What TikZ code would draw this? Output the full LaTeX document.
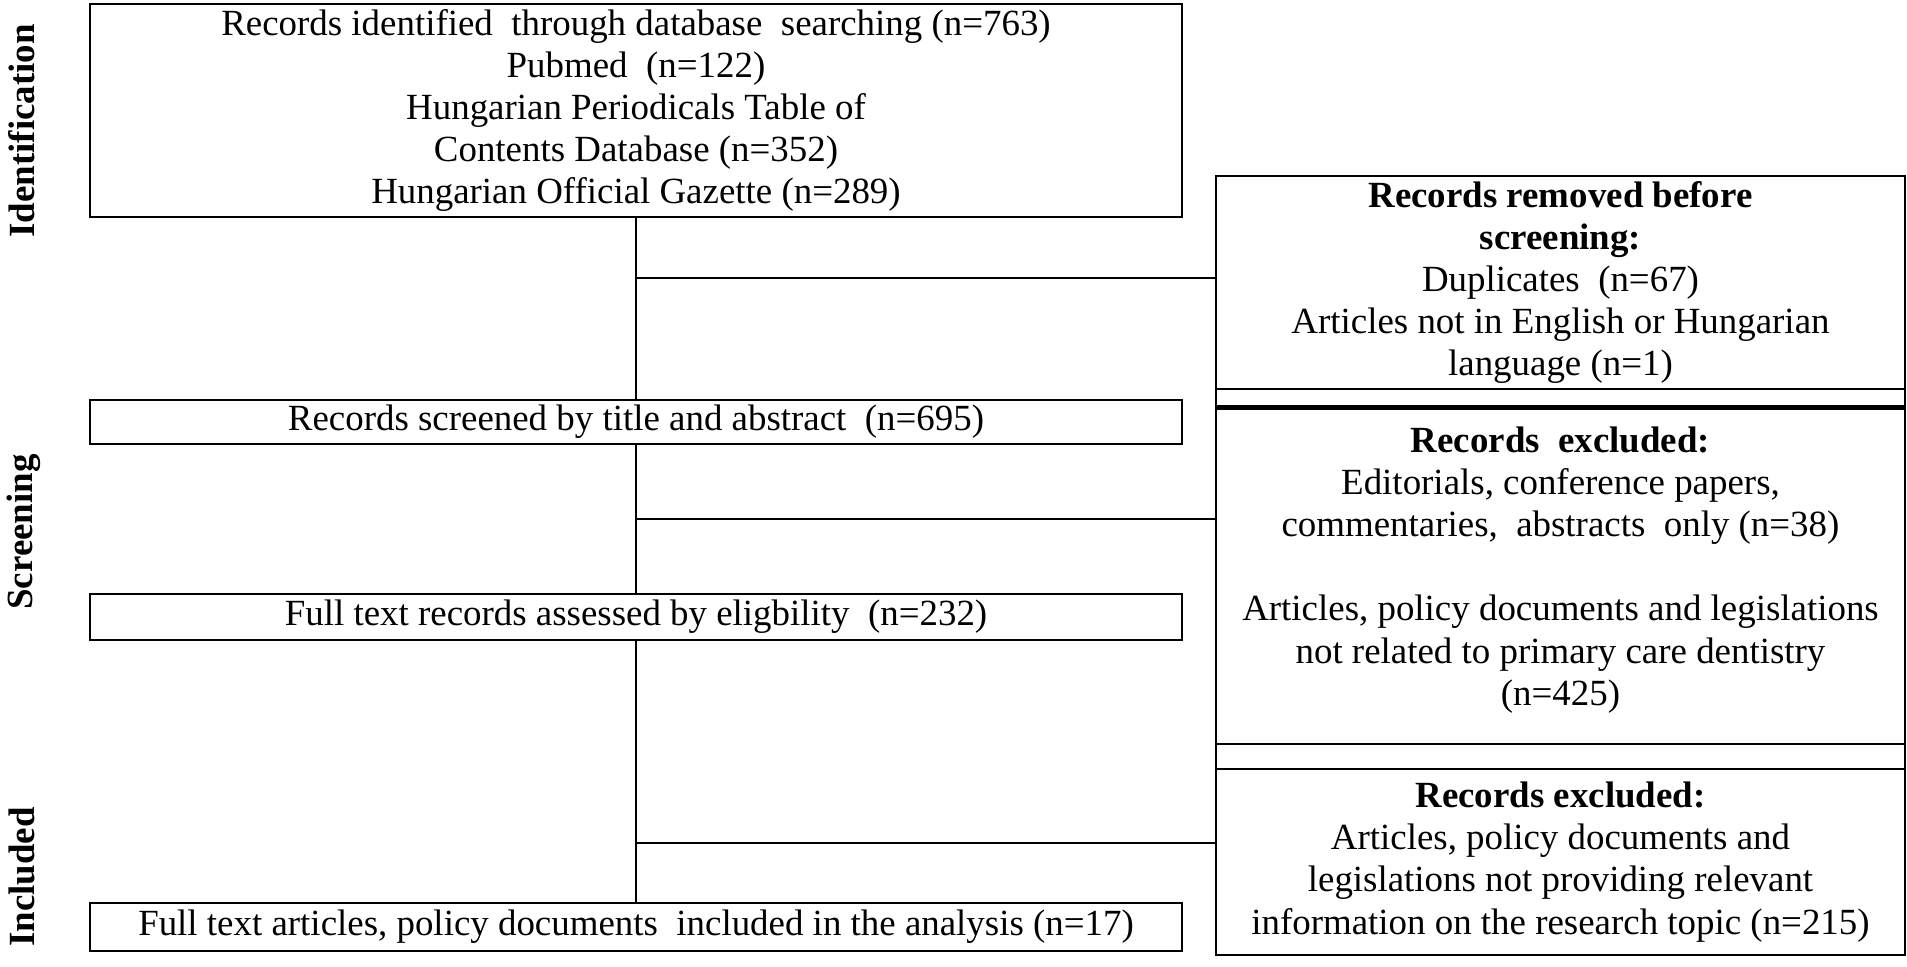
\documentclass[tikz,border=0pt]{standalone}
\usepackage{fontspec}
\setmainfont{Liberation Serif}
\usetikzlibrary{positioning}

\begin{document}
\begin{tikzpicture}[every node/.style={font=\fontsize{10.5}{12}\selectfont},
    box/.style={draw, rectangle, line width=0.7pt, inner sep=0pt, align=center},
    stage/.style={rotate=90, font=\fontsize{10.5}{12}\selectfont\bfseries},
    link/.style={line width=0.7pt}]
    \useasboundingbox (0,0) rectangle (19.07,-9.67);

    \node[stage] (l_ident) at (0.22,-1.31) {Identification};
    \node[stage] (l_screen) at (0.24,-5.32) {Screening};
    \node[stage] (l_incl) at (0.22,-8.77) {Included};

    \node[box, minimum width=10.92cm, minimum height=2.13cm] (ident) at (6.36,-1.105) {Records identified\ \ through database\ \ searching (n=763)\\ Pubmed\ \ (n=122)\\ Hungarian Periodicals Table of\\ Contents Database (n=352)\\ Hungarian Official Gazette (n=289)};
    \node[box, minimum width=10.92cm, minimum height=0.44cm] (screen) at (6.36,-4.22) {Records screened by title and abstract\ \ (n=695)};
    \node[box, minimum width=10.92cm, minimum height=0.46cm] (full) at (6.36,-6.17) {Full text records assessed by eligbility\ \ (n=232)};
    \node[box, minimum width=10.92cm, minimum height=0.48cm] (incl) at (6.36,-9.27) {Full text articles, policy documents\ \ included in the analysis (n=17)};

    \node[box, minimum width=6.89cm, minimum height=2.13cm] (removed) at (15.605,-2.825) {\textbf{Records removed before}\\ \textbf{screening:}\\ Duplicates\ \ (n=67)\\ Articles not in English or Hungarian\\ language (n=1)};
    \node[box, minimum width=6.89cm, minimum height=0.20cm] (gap_1) at (15.605,-3.99) {};
    \node[box, minimum width=6.89cm, minimum height=3.35cm] (excl_1) at (15.605,-5.765) {\textbf{Records\ \ excluded:}\\ Editorials, conference papers,\\ commentaries,\ \ abstracts\ \ only (n=38)\\[12pt] Articles, policy documents and legislations\\ not related to primary care dentistry\\ (n=425)\\[-6pt] \mbox{}};
    \node[box, minimum width=6.89cm, minimum height=0.25cm] (gap_2) at (15.605,-7.565) {};
    \node[box, minimum width=6.89cm, minimum height=1.86cm] (excl_2) at (15.605,-8.62) {\textbf{Records excluded:}\\ Articles, policy documents and\\ legislations not providing relevant\\ information on the research topic (n=215)};
    \draw[line width=1.5pt] (excl_1.north west) -- (excl_1.north east);

    \coordinate (j_rem) at (6.36,-2.78);
    \coordinate (j_scr) at (6.36,-5.19);
    \coordinate (j_full) at (6.36,-8.43);

    \draw[link] (ident) -- (screen);
    \draw[link] (screen) -- (full);
    \draw[link] (full) -- (incl);
    \draw[link] (j_rem) -- (j_rem -| removed.west);
    \draw[link] (j_scr) -- (j_scr -| excl_1.west);
    \draw[link] (j_full) -- (j_full -| excl_2.west);
\end{tikzpicture}
\end{document}
